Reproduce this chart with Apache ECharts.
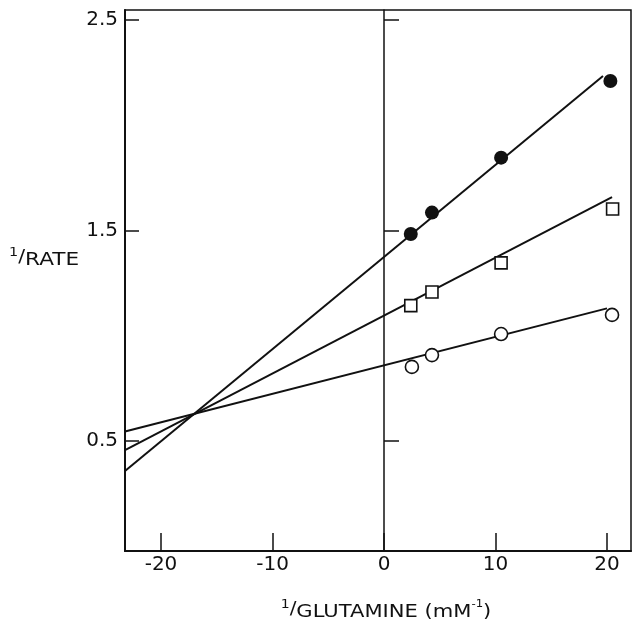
<!DOCTYPE html>
<html>
<head>
<meta charset="utf-8">
<script src="https://cdn.jsdelivr.net/npm/echarts@6/dist/echarts.min.js"></script>
<style>html,body{margin:0;padding:0;background:#fff;}#c{width:632px;height:627px;}</style>
</head>
<body>
<div id="c"></div>
<script>
// Axis tick values
var xTicks = [-20, -10, 0, 10, 20];
var yTicks = [0.5, 1.5, 2.5];

// Data points
var filledX = [2.4, 4.3, 10.5, 20.3];
var filledY = [1.483, 1.585, 1.846, 2.21];
var squareX = [2.4, 4.3, 10.5, 20.5];
var squareY = [1.143, 1.208, 1.346, 1.602];
var openX = [2.5, 4.3, 10.5, 20.45];
var openY = [0.852, 0.908, 1.008, 1.099];

// Fitted line endpoints [x, y]
var filledLine = [[-23.23, 0.357], [19.64, 2.234]];
var squareLine = [[-23.23, 0.457], [20.45, 1.659]];
var openLine = [[-23.23, 0.545], [20.0, 1.13]];

function pairs(xs, ys) { return xs.map(function (x, i) { return [x, ys[i]]; }); }

var ink = '#111';
var font = 'DejaVu Sans';
var chart = echarts.init(document.getElementById('c'), null, {renderer: 'canvas'});

var yAxisCommon = {
  type: 'value', min: -0.0226, max: 2.5475,
  splitLine: {show: false}
};

chart.setOption({
  animation: false,
  backgroundColor: '#fff',
  grid: {left: 125, top: 10, right: 1, bottom: 76, show: true, borderColor: ink, borderWidth: 1.5, backgroundColor: 'transparent'},
  xAxis: {
    type: 'value', min: -23.23, max: 22.15,
    axisLine: {onZero: false, lineStyle: {color: ink, width: 2}},
    axisTick: {inside: true, length: 18, customValues: xTicks, lineStyle: {color: ink, width: 1.5}},
    axisLabel: {customValues: xTicks, color: ink, fontFamily: font, fontSize: 20, margin: 4},
    splitLine: {show: false}
  },
  yAxis: [
    Object.assign({}, yAxisCommon, {
      position: 'left',
      axisLine: {onZero: false, lineStyle: {color: ink, width: 2}},
      axisTick: {inside: true, length: 14, customValues: yTicks, lineStyle: {color: ink, width: 1.5}},
      axisLabel: {customValues: yTicks, color: ink, fontFamily: font, fontSize: 20, margin: 7}
    }),
    Object.assign({}, yAxisCommon, {
      position: 'left',
      axisLine: {show: true, onZero: true, lineStyle: {color: ink, width: 1.5}},
      axisTick: {inside: true, length: 15, customValues: yTicks, lineStyle: {color: ink, width: 1.5}},
      axisLabel: {show: false}
    })
  ],
  graphic: [
    {
      type: 'text', x: 9, y: 247, scaleX: 1.2,
      style: {
        text: '{a|1}{b|/}{c|RATE}',
        fill: ink,
        rich: {
          a: {fontFamily: font, fontSize: 12, verticalAlign: 'top', lineHeight: 14, fill: ink},
          b: {fontFamily: font, fontSize: 17, verticalAlign: 'middle', fill: ink, lineHeight: 18},
          c: {fontFamily: font, fontSize: 18, verticalAlign: 'bottom', lineHeight: 22, fill: ink}
        }
      }
    },
    {
      type: 'text', x: 386, y: 599, scaleX: 1.17,
      style: {
        text: '{a|1}{b|/}{c|GLUTAMINE (mM}{d|-1}{c|)}',
        fill: ink, align: 'center',
        rich: {
          a: {fontFamily: font, fontSize: 12, verticalAlign: 'top', lineHeight: 14, fill: ink},
          b: {fontFamily: font, fontSize: 17, verticalAlign: 'middle', fill: ink, lineHeight: 18},
          c: {fontFamily: font, fontSize: 18, verticalAlign: 'bottom', lineHeight: 22, fill: ink},
          d: {fontFamily: font, fontSize: 10, verticalAlign: 'top', lineHeight: 14, fill: ink}
        }
      }
    }
  ],
  series: [
    {type: 'line', data: filledLine, symbol: 'none', lineStyle: {color: ink, width: 2}, z: 2},
    {type: 'line', data: squareLine, symbol: 'none', lineStyle: {color: ink, width: 2}, z: 2},
    {type: 'line', data: openLine, symbol: 'none', lineStyle: {color: ink, width: 2}, z: 2},
    {type: 'scatter', data: pairs(filledX, filledY), symbol: 'circle', symbolSize: 14, itemStyle: {color: ink, opacity: 1}, z: 5},
    {type: 'scatter', data: pairs(squareX, squareY), symbol: 'rect', symbolSize: 12, itemStyle: {color: '#fff', borderColor: ink, borderWidth: 1.6, opacity: 1}, z: 5},
    {type: 'scatter', data: pairs(openX, openY), symbol: 'circle', symbolSize: 13, itemStyle: {color: '#fff', borderColor: ink, borderWidth: 1.6, opacity: 1}, z: 5}
  ]
});
</script>
</body>
</html>
